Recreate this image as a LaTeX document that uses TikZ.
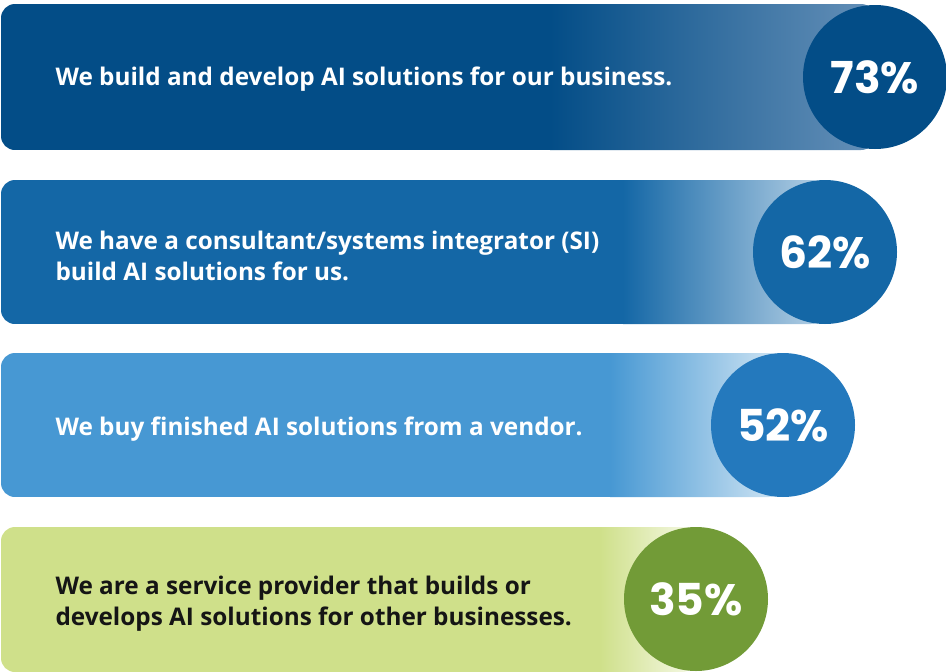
\documentclass[tikz,border=0pt]{standalone}
\usepackage{fontspec}
\setmainfont{Open Sans}[Ligatures=NoCommon]
\newfontfamily\pctfont{Poppins}
\usepackage{tikz}
\usetikzlibrary{positioning, shadings}
\definecolor{barone}{HTML}{034D87}
\definecolor{baronefade}{HTML}{6590B8}
\definecolor{bartwo}{HTML}{1467A6}
\definecolor{bartwofade}{HTML}{B6D1E6}
\definecolor{barthree}{HTML}{4798D3}
\definecolor{barthreefade}{HTML}{D2E6F4}
\definecolor{barfour}{HTML}{CFE08A}
\definecolor{barfourfade}{HTML}{F6F9E8}
\definecolor{dotone}{HTML}{034D87}
\definecolor{dottwo}{HTML}{1467A6}
\definecolor{dotthree}{HTML}{2479BD}
\definecolor{dotfour}{HTML}{729B37}
\definecolor{inkdark}{HTML}{151515}

\tikzset{
  bartext/.style={anchor=west, align=left, font=\fontsize{24.3}{31}\selectfont\bfseries},
  pctdot/.style={circle, minimum size=144pt, inner sep=0pt, text=white, font=\fontsize{44}{44}\pctfont\bfseries}
}

\begin{document}
\begin{tikzpicture}[x=1pt, y=-1pt]
  \useasboundingbox (0,0) rectangle (946,672);

  % Bar 1: build in house
  \begin{scope}
    \clip[rounded corners=14pt] (1,4) rectangle (875,150);
    \fill[barone] (1,4) rectangle (550,150);
    \shade[left color=barone, right color=baronefade] (550,4) rectangle (875,150);
  \end{scope}
  \node[pctdot, fill=dotone] (pctone) at (875,77) {73\%};
  \node[bartext, white] (txtone) at (52,79) {We build and develop AI solutions for our business.};

  % Bar 2: consultant / SI
  \begin{scope}
    \clip[rounded corners=14pt] (1,180) rectangle (825,324);
    \fill[bartwo] (1,180) rectangle (623,324);
    \shade[left color=bartwo, right color=bartwofade] (623,180) rectangle (825,324);
  \end{scope}
  \node[pctdot, fill=dottwo] (pcttwo) at (825,252) {62\%};
  \node[bartext, white] (txttwo) at (52,256) {We have a consultant/systems integrator (SI)\\build AI solutions for us.};

  % Bar 3: vendor
  \begin{scope}
    \clip[rounded corners=14pt] (1,353) rectangle (783,497);
    \fill[barthree] (1,353) rectangle (610,497);
    \shade[left color=barthree, right color=barthreefade] (610,353) rectangle (783,497);
  \end{scope}
  \node[pctdot, fill=dotthree] (pctthree) at (783,425) {52\%};
  \node[bartext, white] (txtthree) at (52,429) {We buy finished AI solutions from a vendor.};

  % Bar 4: service provider
  \begin{scope}
    \clip[rounded corners=14pt] (1,527) rectangle (696,672);
    \fill[barfour] (1,527) rectangle (600,672);
    \shade[left color=barfour, right color=barfourfade] (600,527) rectangle (696,672);
  \end{scope}
  \node[pctdot, fill=dotfour] (pctfour) at (696,599) {35\%};
  \node[bartext, inkdark] (txtfour) at (52,604) {We are a service provider that builds or\\develops AI solutions for other businesses.};
\end{tikzpicture}
\end{document}
